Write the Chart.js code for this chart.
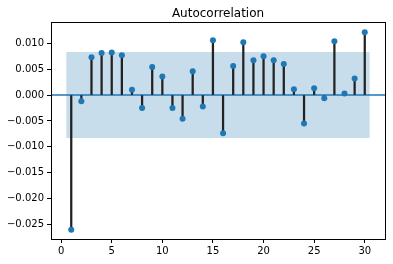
<!DOCTYPE html>
<html>
<head>
<meta charset="utf-8">
<script src="https://cdn.jsdelivr.net/npm/chart.js@4.4.0/dist/chart.umd.min.js"></script>
<style>
  html, body { margin: 0; padding: 0; background: #fff; }
  #wrap { width: 393px; height: 264px; position: relative; }
</style>
</head>
<body>
<div id="wrap"><canvas id="acf"></canvas></div>
<script>
const lags = [1, 2, 3, 4, 5, 6, 7, 8, 9, 10, 11, 12, 13, 14, 15, 16, 17, 18, 19, 20, 21, 22, 23, 24, 25, 26, 27, 28, 29, 30];
const acfValues = [-0.0260, -0.0012, 0.0073, 0.0081, 0.0082, 0.0077, 0.0010, -0.0025, 0.0054, 0.0036,
  -0.0025, -0.0046, 0.0046, -0.0022, 0.0106, -0.0074, 0.0056, 0.0102, 0.0067, 0.0075,
  0.0067, 0.0060, 0.0011, -0.0055, 0.0013, -0.0006, 0.0104, 0.0003, 0.0032, 0.0121];
const confBand = [-0.0083, 0.0083];
const bandRange = [0.5, 30.5];
const xTicks = [0, 5, 10, 15, 20, 25, 30];
const yTicks = [-0.025, -0.020, -0.015, -0.010, -0.005, 0.000, 0.005, 0.010];
const title = "Autocorrelation";

const blue = "#1f77b4";
const font = "DejaVu Sans";

// frame + title drawn around the chart area, like matplotlib's spines
const framePlugin = {
  id: "frame",
  afterDraw(chart) {
    const { ctx, chartArea: a } = chart;
    ctx.save();
    ctx.strokeStyle = "#000";
    ctx.lineWidth = 1;
    ctx.strokeRect(Math.round(a.left) + 0.5, Math.round(a.top) + 0.5,
      Math.round(a.right - a.left), Math.round(a.bottom - a.top));
    ctx.fillStyle = "#000";
    ctx.font = "12px '" + font + "'";
    ctx.textAlign = "center";
    ctx.textBaseline = "bottom";
    ctx.fillText(title, (a.left + a.right) / 2, a.top - 2);
    ctx.restore();
  }
};

new Chart(document.getElementById("acf"), {
  type: "bar",
  data: {
    datasets: [
      {
        type: "line",
        label: "band upper",
        data: bandRange.map((x) => ({ x: x, y: confBand[1] })),
        borderWidth: 0,
        pointRadius: 0,
        fill: "+1",
        backgroundColor: "rgba(31,119,180,0.25)",
        order: 5,
      },
      {
        type: "line",
        label: "band lower",
        data: bandRange.map((x) => ({ x: x, y: confBand[0] })),
        borderWidth: 0,
        pointRadius: 0,
        fill: false,
        order: 5,
      },
      {
        type: "line",
        label: "zero",
        data: [{ x: -1, y: 0 }, { x: 32, y: 0 }],
        borderColor: blue,
        borderWidth: 1.5,
        pointRadius: 0,
        order: 4,
      },
      {
        label: "stems",
        data: lags.map((l, i) => ({ x: l, y: [0, acfValues[i]] })),
        backgroundColor: "#222",
        barThickness: 1.6,
        order: 2,
      },
      {
        type: "scatter",
        label: "acf",
        data: lags.map((l, i) => ({ x: l, y: acfValues[i] })),
        backgroundColor: blue,
        borderColor: blue,
        pointRadius: 3,
        borderWidth: 0,
        order: 1,
      },
    ],
  },
  options: {
    responsive: true,
    maintainAspectRatio: false,
    animation: false,
    layout: { padding: { top: 22, right: 8, left: 0, bottom: 0 } },
    plugins: {
      legend: { display: false },
      tooltip: { enabled: false },
      title: { display: false },
    },
    scales: {
      x: {
        type: "linear",
        min: -1,
        max: 32,
        offset: false,
        afterBuildTicks: (axis) => { axis.ticks = xTicks.map((v) => ({ value: v })); },
        afterFit: (axis) => { axis.height = 25; },
        grid: { offset: false, drawOnChartArea: false, drawTicks: true, tickLength: 4, tickColor: "#000" },
        border: { display: true, color: "#000" },
        ticks: { color: "#000", padding: 2, maxRotation: 0, font: { family: font, size: 10 } },
      },
      y: {
        min: -0.0278,
        max: 0.0141,
        afterBuildTicks: (axis) => { axis.ticks = yTicks.map((v) => ({ value: v })); },
        afterFit: (axis) => { axis.width = 51; },
        grid: { drawOnChartArea: false, drawTicks: true, tickLength: 4, tickColor: "#000" },
        border: { display: true, color: "#000" },
        ticks: {
          color: "#000",
          padding: 3,
          font: { family: font, size: 10 },
          callback: (v) => v.toFixed(3).replace("-", "\u2212"),
        },
      },
    },
  },
  plugins: [framePlugin],
});
</script>
</body>
</html>
